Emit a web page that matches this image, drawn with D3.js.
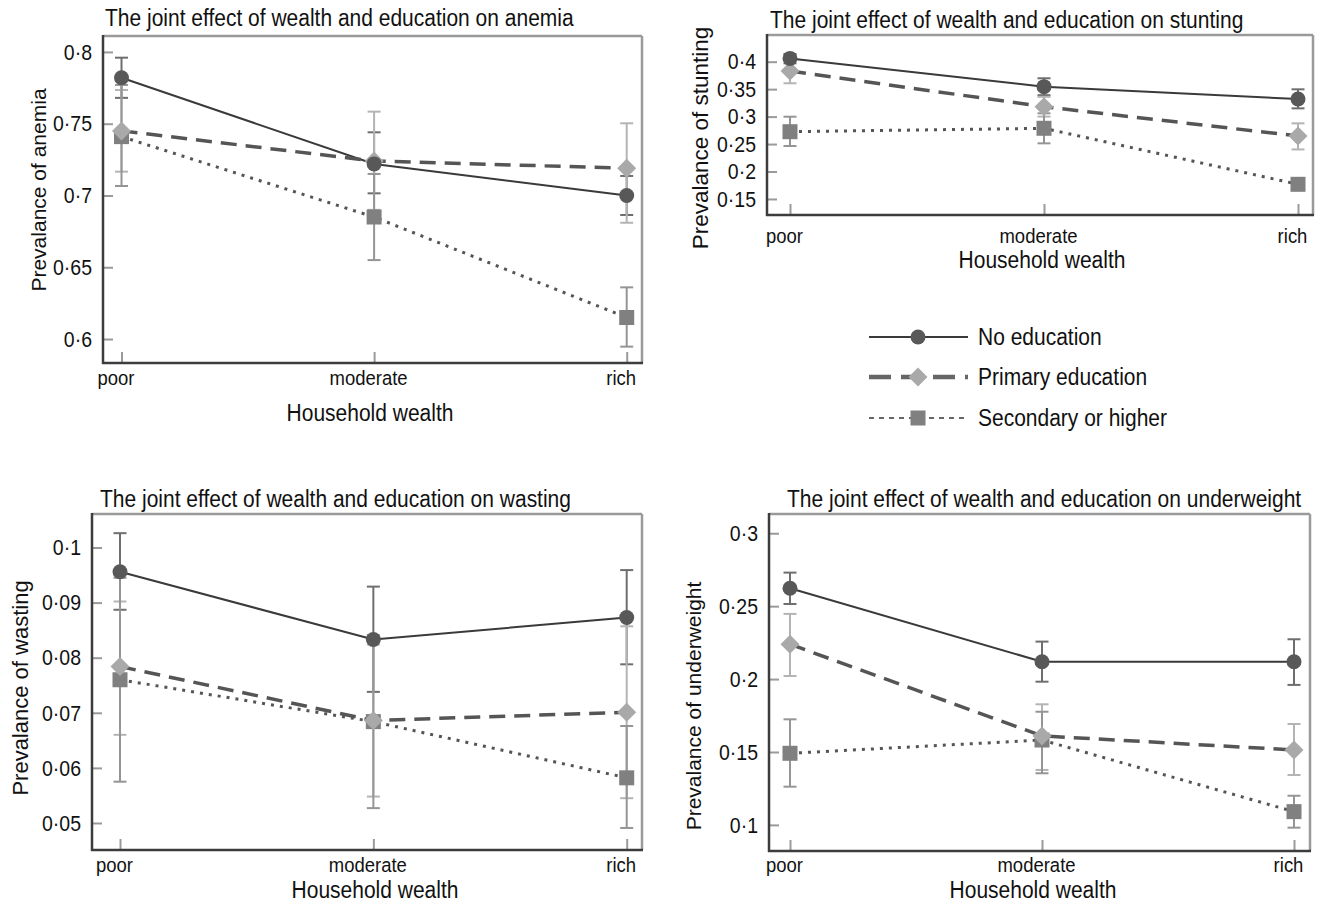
<!DOCTYPE html>
<html>
<head>
<meta charset="utf-8">
<script src="https://cdn.jsdelivr.net/npm/d3@7"></script>
<style>
  html, body { margin: 0; padding: 0; background: #fff; }
  svg { display: block; }
  text { font-family: "Liberation Sans", Arial, Helvetica, sans-serif; fill: #111; }
</style>
</head>
<body>
<svg id="chart" width="1325" height="905"></svg>
<script>
// ---------------- DATA ----------------
const categories = ["poor", "moderate", "rich"];
const seriesNames = ["No education", "Primary education", "Secondary or higher"];

// anemia
const anemiaNoEdu      = [0.782, 0.722, 0.700];
const anemiaNoEduLo    = [0.768, 0.7015, 0.6864];
const anemiaNoEduHi    = [0.796, 0.744, 0.7136];
const anemiaPrimary    = [0.745, 0.724, 0.719];
const anemiaPrimaryLo  = [0.7166, 0.690, 0.681];
const anemiaPrimaryHi  = [0.7735, 0.7584, 0.7503];
const anemiaSecondary  = [0.741, 0.685, 0.615];
const anemiaSecondaryLo= [0.7066, 0.655, 0.5947];
const anemiaSecondaryHi= [0.777, 0.715, 0.636];
const anemiaTicks = [0.6, 0.65, 0.7, 0.75, 0.8];

// stunting
const stuntingNoEdu      = [0.406, 0.3545, 0.332];
const stuntingNoEduLo    = [0.397, 0.339, 0.315];
const stuntingNoEduHi    = [0.414, 0.3698, 0.3497];
const stuntingPrimary    = [0.383, 0.318, 0.2647];
const stuntingPrimaryLo  = [0.3607, 0.300, 0.2402];
const stuntingPrimaryHi  = [0.405, 0.336, 0.2877];
const stuntingSecondary  = [0.2725, 0.2787, 0.1767];
const stuntingSecondaryLo= [0.2465, 0.2513, 0.168];
const stuntingSecondaryHi= [0.2998, 0.306, 0.186];
const stuntingTicks = [0.15, 0.2, 0.25, 0.3, 0.35, 0.4];

// wasting
const wastingNoEdu      = [0.0956, 0.0833, 0.0873];
const wastingNoEduLo    = [0.0887, 0.0738, 0.0788];
const wastingNoEduHi    = [0.1026, 0.0929, 0.0959];
const wastingPrimary    = [0.0784, 0.0686, 0.0701];
const wastingPrimaryLo  = [0.066, 0.0548, 0.0545];
const wastingPrimaryHi  = [0.0902, 0.0824, 0.0857];
const wastingSecondary  = [0.0760, 0.0684, 0.0582];
const wastingSecondaryLo= [0.0575, 0.0527, 0.0491];
const wastingSecondaryHi= [0.0945, 0.0841, 0.0676];
const wastingTicks = [0.05, 0.06, 0.07, 0.08, 0.09, 0.1];

// underweight
const underweightNoEdu      = [0.2623, 0.2119, 0.2119];
const underweightNoEduLo    = [0.2515, 0.1982, 0.196];
const underweightNoEduHi    = [0.273, 0.2257, 0.2273];
const underweightPrimary    = [0.2239, 0.161, 0.1514];
const underweightPrimaryLo  = [0.2021, 0.1377, 0.1342];
const underweightPrimaryHi  = [0.2447, 0.1827, 0.1692];
const underweightSecondary  = [0.1491, 0.1582, 0.1091];
const underweightSecondaryLo= [0.1262, 0.1354, 0.0981];
const underweightSecondaryHi= [0.1724, 0.1776, 0.12];
const underweightTicks = [0.1, 0.15, 0.2, 0.25, 0.3];

const titles = [
  "The joint effect of wealth and education on anemia",
  "The joint effect of wealth and education on stunting",
  "The joint effect of wealth and education on wasting",
  "The joint effect of wealth and education on underweight"
];
const yTitles = ["Prevalance of anemia", "Prevalance of stunting", "Prevalance of wasting", "Prevalance of underweight"];
const xTitle = "Household wealth";

// ---------------- STYLE ----------------
const FONT = '"Liberation Sans", Arial, Helvetica, sans-serif';
const STRETCH = 1.12; // glyphs in the original are slightly taller than wide
const seriesStyle = [
  { line: "#3a3a3a", width: 2,   dash: null,   err: "#6e6e6e", fill: "#585858", shape: "circle" },
  { line: "#555555", width: 3.5, dash: "16,9", err: "#b4b4b4", fill: "#a9a9a9", shape: "diamond" },
  { line: "#555555", width: 3,   dash: "3,6",  err: "#959595", fill: "#808080", shape: "square" }
];

// layout of each panel
const panels = [
  { key: "anemia", frame: { l: 103, r: 642, t: 36, b: 363 }, yDom: [0.5833, 0.8111], xRange: [121.5, 626.7],
    ticks: anemiaTicks, title: { x: 105, y: 26 }, yTitle: { x: 38, y: 190, fs: 21 },
    xLabelY: 385, xTitleY: 421, xTitleX: 370,
    series: [[anemiaNoEdu, anemiaNoEduLo, anemiaNoEduHi], [anemiaPrimary, anemiaPrimaryLo, anemiaPrimaryHi], [anemiaSecondary, anemiaSecondaryLo, anemiaSecondaryHi]] },
  { key: "stunting", frame: { l: 767, r: 1313, t: 35, b: 215 }, yDom: [0.1208, 0.4486], xRange: [790, 1298],
    ticks: stuntingTicks, title: { x: 770, y: 28 }, yTitle: { x: 700, y: 138, fs: 22.5 },
    xLabelY: 243, xTitleY: 268, xTitleX: 1042,
    series: [[stuntingNoEdu, stuntingNoEduLo, stuntingNoEduHi], [stuntingPrimary, stuntingPrimaryLo, stuntingPrimaryHi], [stuntingSecondary, stuntingSecondaryLo, stuntingSecondaryHi]] },
  { key: "wasting", frame: { l: 92, r: 642, t: 514, b: 850 }, yDom: [0.0451, 0.10608], xRange: [120, 626.7],
    ticks: wastingTicks, title: { x: 100, y: 507 }, yTitle: { x: 20, y: 688, fs: 22 },
    xLabelY: 872, xTitleY: 898, xTitleX: 375,
    series: [[wastingNoEdu, wastingNoEduLo, wastingNoEduHi], [wastingPrimary, wastingPrimaryLo, wastingPrimaryHi], [wastingSecondary, wastingSecondaryLo, wastingSecondaryHi]] },
  { key: "underweight", frame: { l: 769, r: 1310, t: 514, b: 851 }, yDom: [0.0821, 0.3132], xRange: [790, 1294],
    ticks: underweightTicks, title: { x: 787, y: 507 }, yTitle: { x: 693, y: 706, fs: 21 },
    xLabelY: 872, xTitleY: 898, xTitleX: 1033,
    series: [[underweightNoEdu, underweightNoEduLo, underweightNoEduHi], [underweightPrimary, underweightPrimaryLo, underweightPrimaryHi], [underweightSecondary, underweightSecondaryLo, underweightSecondaryHi]] }
];

const svg = d3.select("#chart");
const fmt = v => String(+v.toFixed(3)).replace(".", "·");

// horizontal text, stretched a little vertically about its baseline
function addText(g, x, y, str, fs, anchor) {
  return g.append("text")
    .attr("transform", `translate(${x},${y}) scale(1,${STRETCH})`)
    .attr("text-anchor", anchor || "start")
    .attr("font-family", FONT).attr("font-size", fs).text(str);
}

function drawMarker(g, shape, x, y, fill) {
  if (shape === "circle") {
    g.append("circle").attr("cx", x).attr("cy", y).attr("r", 7.5).attr("fill", fill);
  } else if (shape === "diamond") {
    const s = 9.5;
    g.append("path").attr("d", `M${x},${y - s}L${x + s},${y}L${x},${y + s}L${x - s},${y}Z`).attr("fill", fill);
  } else {
    const s = 7.5;
    g.append("rect").attr("x", x - s).attr("y", y - s).attr("width", 2 * s).attr("height", 2 * s).attr("fill", fill);
  }
}

panels.forEach((p, pi) => {
  const g = svg.append("g").attr("class", p.key);
  const f = p.frame;
  const x = d3.scalePoint().domain(categories).range(p.xRange);
  const y = d3.scaleLinear().domain(p.yDom).range([f.b, f.t]);

  // frame: top/right light, left/bottom dark
  g.append("line").attr("x1", f.l).attr("x2", f.r).attr("y1", f.t).attr("y2", f.t).attr("stroke", "#9a9a9a").attr("stroke-width", 2.5);
  g.append("line").attr("x1", f.r).attr("x2", f.r).attr("y1", f.t).attr("y2", f.b).attr("stroke", "#9a9a9a").attr("stroke-width", 2.5);

  // y axis (ticks pointing inward)
  const ya = g.append("g").attr("transform", `translate(${f.l},0)`)
    .call(d3.axisLeft(y).tickValues(p.ticks).tickFormat(fmt).tickSizeInner(-10).tickSizeOuter(0).tickPadding(11));
  ya.select(".domain").remove();
  ya.selectAll(".tick line").attr("stroke", "#9a9a9a").attr("stroke-width", 2);
  ya.selectAll(".tick text").attr("font-family", FONT).attr("font-size", 19.5).attr("fill", "#111")
    .attr("dy", "0.33em").attr("transform", `scale(1,${STRETCH})`);

  // x axis (ticks pointing upward)
  const xa = g.append("g").attr("transform", `translate(0,${f.b})`)
    .call(d3.axisBottom(x).tickSizeInner(-11).tickSizeOuter(0).tickPadding(0));
  xa.select(".domain").remove();
  xa.selectAll(".tick line").attr("stroke", "#9a9a9a").attr("stroke-width", 2);
  xa.selectAll(".tick text").attr("font-family", FONT).attr("font-size", 18.5).attr("fill", "#111")
    .attr("dy", null).attr("y", null).attr("dx", -6)
    .attr("transform", `translate(0,${p.xLabelY - f.b}) scale(1,${STRETCH})`);

  // dark left/bottom axes
  g.append("line").attr("x1", f.l).attr("x2", f.l).attr("y1", f.t - 1).attr("y2", f.b + 1).attr("stroke", "#3c3c3c").attr("stroke-width", 2.5);
  g.append("line").attr("x1", f.l - 1).attr("x2", f.r + 1).attr("y1", f.b).attr("y2", f.b).attr("stroke", "#3c3c3c").attr("stroke-width", 2.5);

  // titles
  addText(g, p.title.x, p.title.y, titles[pi], 21, "start");
  g.append("text").attr("transform", `translate(${p.yTitle.x},${p.yTitle.y}) rotate(-90)`)
    .attr("text-anchor", "middle").attr("dy", "0.36em").attr("font-size", p.yTitle.fs).attr("font-family", FONT).text(yTitles[pi]);
  addText(g, p.xTitleX, p.xTitleY, xTitle, 21, "middle");

  const line = d3.line().x((d, i) => x(categories[i])).y(d => y(d));

  // lines
  p.series.forEach((s, si) => {
    const st = seriesStyle[si];
    g.append("path").attr("d", line(s[0])).attr("fill", "none").attr("stroke", st.line)
      .attr("stroke-width", st.width).attr("stroke-dasharray", st.dash);
  });
  // error bars
  p.series.forEach((s, si) => {
    const st = seriesStyle[si];
    categories.forEach((c, i) => {
      const cx = x(c), lo = y(s[1][i]), hi = y(s[2][i]);
      g.append("line").attr("x1", cx).attr("x2", cx).attr("y1", lo).attr("y2", hi).attr("stroke", st.err).attr("stroke-width", 2);
      [lo, hi].forEach(yy => g.append("line").attr("x1", cx - 6.5).attr("x2", cx + 6.5).attr("y1", yy).attr("y2", yy)
        .attr("stroke", st.err).attr("stroke-width", 2));
    });
  });
  // markers (secondary, primary, then no-edu on top)
  [2, 1, 0].forEach(si => {
    const st = seriesStyle[si];
    categories.forEach((c, i) => drawMarker(g, st.shape, x(c), y(p.series[si][0][i]), st.fill));
  });
});

// ---------------- LEGEND ----------------
const legendY = [337, 377, 418];
const legendLineDash = [null, "22,10", "5,5"];
const legendLineW = [2, 4.5, 2];
const lg = svg.append("g").attr("class", "legend");
seriesNames.forEach((name, i) => {
  const st = seriesStyle[i];
  lg.append("line").attr("x1", 869).attr("x2", 968).attr("y1", legendY[i]).attr("y2", legendY[i])
    .attr("stroke", i === 0 ? "#3a3a3a" : "#666").attr("stroke-width", legendLineW[i]).attr("stroke-dasharray", legendLineDash[i]);
  drawMarker(lg, st.shape, 918, legendY[i], st.fill);
  addText(lg, 978, legendY[i] + 8, name, 21, "start");
});
</script>
</body>
</html>
